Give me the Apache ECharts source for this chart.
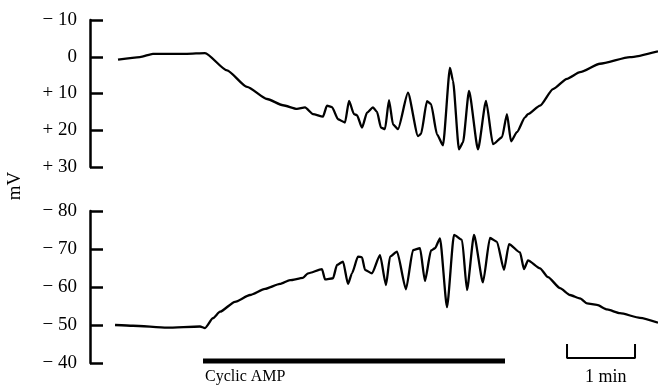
<!DOCTYPE html>
<html>
<head>
<meta charset="utf-8">
<script src="https://cdn.jsdelivr.net/npm/echarts@6/dist/echarts.min.js"></script>
<style>
html,body{margin:0;padding:0;background:#fff;}
#chart{width:658px;height:392px;}
</style>
</head>
<body>
<div id="chart"></div>
<script>
// time in minutes from the left axis, potential in mV
var topTime = [0.412,0.735,0.926,1.426,1.691,2.015,2.309,2.603,2.838,3.044,3.162,3.279,3.426,3.485,3.559,3.647,3.750,3.809,3.882,3.926,4.000,4.074,4.162,4.221,4.279,4.338,4.397,4.456,4.529,4.676,4.824,4.868,4.956,5.015,5.103,5.191,5.294,5.338,5.426,5.485,5.574,5.706,5.824,5.926,6.059,6.132,6.191,6.279,6.397,6.441,6.618,6.809,7.015,7.206,7.500,7.941,8.353];
var topMv = [0.8,0.1,-0.8,-0.8,-1.0,3.7,8.2,11.5,13.2,14.2,13.8,15.6,16.3,13.3,13.7,17.0,17.9,12.0,15.6,15.9,19.3,15.2,13.8,15.0,19.3,19.7,11.8,18.4,19.7,9.8,21.6,21.0,12.1,12.9,21.1,24.1,3.0,6.5,25.2,23.3,9.3,25.2,12.0,23.8,21.9,15.6,23.0,20.5,16.5,15.6,13.3,8.8,6.0,4.2,1.9,0.1,-1.5];

var botTime = [0.368,0.632,1.132,1.618,1.691,1.809,1.912,2.132,2.353,2.574,2.794,2.941,3.132,3.206,3.412,3.456,3.574,3.632,3.721,3.794,3.853,3.941,4.000,4.044,4.147,4.265,4.353,4.412,4.515,4.647,4.750,4.853,4.926,5.015,5.074,5.147,5.250,5.353,5.471,5.544,5.647,5.779,5.882,5.985,6.088,6.162,6.324,6.382,6.441,6.618,6.735,6.912,7.059,7.206,7.309,7.456,7.603,7.794,8.088,8.353];
var botMv = [-50.0,-49.8,-49.3,-49.6,-49.2,-51.8,-53.5,-56.1,-57.9,-59.5,-60.8,-61.8,-62.4,-63.6,-64.7,-62.0,-62.3,-65.8,-66.7,-60.8,-63.6,-68.0,-67.8,-64.5,-63.6,-68.4,-60.5,-68.0,-69.3,-59.4,-69.7,-70.2,-61.6,-69.6,-70.2,-72.8,-54.7,-73.7,-72.4,-59.2,-73.7,-61.2,-72.9,-71.9,-64.5,-71.3,-69.1,-64.7,-67.0,-64.9,-62.6,-59.7,-57.9,-57.0,-55.7,-55.3,-54.1,-53.1,-51.9,-50.6];

var topTicks = [-10, 0, 10, 20, 30];
var topTickLabels = ['\u2212 10', '0', '+ 10', '+ 20', '+ 30'];
var botTicks = [-80, -70, -60, -50, -40];
var botTickLabels = ['\u2212 80', '\u2212 70', '\u2212 60', '\u2212 50', '\u2212 40'];

var stimStart = 1.662, stimEnd = 6.103;       // cyclic AMP application (min)
var scaleStart = 7.015, scaleLength = 1;      // 1 min scale bar
var xMax = 8.353;

function zip(a, b) { return a.map(function (v, i) { return [v, b[i]]; }); }
function labelFor(ticks, labels) {
  return function (v) { var i = ticks.indexOf(v); return i >= 0 ? labels[i] : ''; };
}

var serif = '"Liberation Serif", "DejaVu Serif", serif';
function yAxisCfg(gi, mn, mx, ticks, labels) {
  return {
    type: 'value', gridIndex: gi, min: mn, max: mx, interval: 10, inverse: true,
    axisLine: { show: true, lineStyle: { color: '#000', width: 2.5 } },
    axisTick: { show: true, inside: true, length: 13, lineStyle: { color: '#000', width: 2.5 } },
    splitLine: { show: false },
    axisLabel: { show: true, margin: 13, color: '#000', fontSize: 19, fontFamily: serif,
                 formatter: labelFor(ticks, labels) }
  };
}

var chart = echarts.init(document.getElementById('chart'), null, { renderer: 'canvas' });
chart.setOption({
  animation: false,
  backgroundColor: '#fff',
  grid: [
    { left: 90, right: 0, top: 20, height: 147 },
    { left: 90, right: 0, top: 211, height: 152 },
    { left: 90, right: 0, top: 345, height: 16.9 }
  ],
  xAxis: [
    { type: 'value', gridIndex: 0, min: 0, max: xMax, show: false },
    { type: 'value', gridIndex: 1, min: 0, max: xMax, show: false },
    { type: 'value', gridIndex: 2, min: 0, max: xMax, show: false }
  ],
  yAxis: [
    yAxisCfg(0, -10, 30, topTicks, topTickLabels),
    yAxisCfg(1, -80, -40, botTicks, botTickLabels),
    { type: 'value', gridIndex: 2, min: -0.3, max: 1, show: false }
  ],
  series: [
    { type: 'line', xAxisIndex: 0, yAxisIndex: 0, data: zip(topTime, topMv), showSymbol: false,
      smooth: 0.2, smoothMonotone: 'x', lineStyle: { color: '#000', width: 2.3 } },
    { type: 'line', xAxisIndex: 1, yAxisIndex: 1, data: zip(botTime, botMv), showSymbol: false,
      smooth: 0.2, smoothMonotone: 'x', lineStyle: { color: '#000', width: 2.3 } },
    { type: 'line', xAxisIndex: 2, yAxisIndex: 2, data: [[stimStart, -0.23], [stimEnd, -0.23]], showSymbol: false,
      lineStyle: { color: '#000', width: 5 } },
    { type: 'line', xAxisIndex: 2, yAxisIndex: 2,
      data: [[scaleStart, 1], [scaleStart, 0], [scaleStart + scaleLength, 0], [scaleStart + scaleLength, 1]],
      showSymbol: false, lineStyle: { color: '#000', width: 2, cap: 'square' } }
  ],
  graphic: [
    { type: 'text', left: 205, top: 369, style: { text: 'Cyclic AMP', fill: '#000', font: '16px ' + serif } },
    { type: 'text', left: 585, top: 368, style: { text: '1 min', fill: '#000', font: '18px ' + serif } },
    { type: 'text', x: 15, y: 186, rotation: Math.PI / 2,
      style: { text: 'mV', fill: '#000', font: '19px ' + serif, textAlign: 'center', textVerticalAlign: 'middle' } }
  ]
});
</script>
</body>
</html>
